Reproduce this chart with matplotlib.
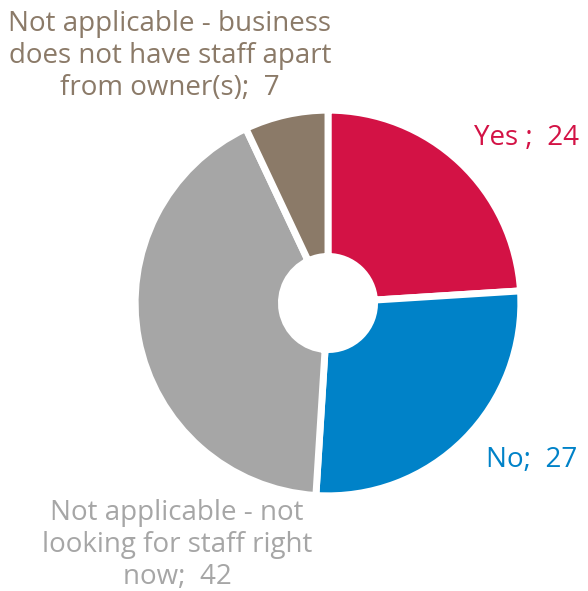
import matplotlib
matplotlib.use('Agg')
import matplotlib.pyplot as plt

labels = ['Yes', 'No', 'Not applicable - not\nlooking for staff right\nnow',
          'Not applicable - business\ndoes not have staff apart\nfrom owner(s)']
values = [24, 27, 42, 7]
label_sep = [' ;  ', ';  ', ';  ', ';  ']
colors = ['#D31245', '#0082C8', '#A6A6A6', '#8B7A68']

# label centres in figure pixels (x from left, y from top)
label_pos = [(527, 138), (532, 460), (177, 545), (170, 56)]

W, H = 588, 591
fig = plt.figure(figsize=(W / 100, H / 100), dpi=100)
plt.rcParams['font.family'] = ['Open Sans', 'DejaVu Sans']

# square axes holding the donut: centre (328, 303), radius 190 px
cx, cy, r = 328, 303, 190
ax = fig.add_axes([(cx - r) / W, 1 - (cy + r) / H, 2 * r / W, 2 * r / H])
wedges, _ = ax.pie(values, colors=colors, startangle=90, counterclock=False,
                   radius=1.015,
                   wedgeprops=dict(width=0.77, edgecolor='white', linewidth=5))
ax.set_xlim(-1, 1)
ax.set_ylim(-1, 1)
ax.axis('off')

for lab, sep, val, col, (x, y) in zip(labels, label_sep, values, colors, label_pos):
  fig.text(x / W, 1 - y / H, f'{lab}{sep}{val}', color=col, fontsize=20,
           ha='center', va='center', linespacing=1.2)

fig.savefig('out.png', dpi=100)
